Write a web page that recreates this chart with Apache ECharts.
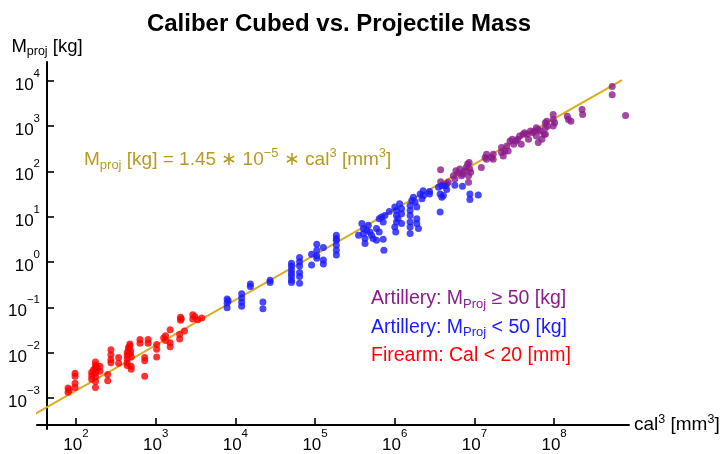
<!DOCTYPE html>
<html>
<head>
<meta charset="utf-8">
<script src="https://cdn.jsdelivr.net/npm/echarts@6/dist/echarts.min.js"></script>
<style>
  html, body { margin: 0; padding: 0; background: #ffffff; }
  #chart { width: 723px; height: 454px; }
</style>
</head>
<body>
<div id="chart"></div>
<script>
// Calibre [mm] and projectile mass [kg], one pair per weapon.
const firearmCal = [4.3,4.3,4.35, 4.6,4.6,4.6,4.6, 5.4,5.4,5.4, 5.6,5.6,5.6,5.6,5.6,5.6,5.6,5.6, 5.5,5.7, 5.85,5.85, 6.3,6.3, 6.5,6.5,6.5,6.5, 7.0,7.0, 7.6,7.6,7.6,7.6,7.6, 7.7,7.7, 7.8,7.8, 7.85,7.85, 7.9,7.9,7.9, 8.6,8.6, 9.0,9.0,9.0, 9.3,9.3, 10.1,10.1,10.1, 10.8, 11.0,11.0, 11.5,11.5,11.5, 12.6,12.6, 12.7,12.7, 12.8, 13.2, 14.3,14.3, 14.6, 15.0, 15.6];
const firearmMass = [0.00166,0.00133,0.0015, 0.0035,0.0030,0.0021,0.0017, 0.0037,0.0031,0.0026, 0.0062,0.0053,0.0047,0.0040,0.0035,0.0029,0.0023,0.0017, 0.0042,0.0045, 0.0050,0.0039, 0.0033,0.0024, 0.0115,0.0090,0.0070,0.0060, 0.0078,0.0058, 0.0100,0.0085,0.0072,0.0060,0.0052, 0.0130,0.0115, 0.0155,0.0140, 0.0110,0.0095, 0.0080,0.0050,0.0043, 0.0195,0.0160, 0.0078,0.0066,0.0030, 0.0195,0.0160, 0.0150,0.0118,0.0080, 0.021, 0.0235,0.0185, 0.032,0.0166,0.0135, 0.025,0.020, 0.060,0.052, 0.056, 0.030, 0.068,0.055, 0.062, 0.053, 0.058];

const lightCal = [19.9,19.9,19.9,20.1, 22.9,22.9,22.9,22.9, 24.9,24.9, 28.1,28.1, 30.1,30.1, 37,37,37,37,37,37,37, 40,40,40,40,40,40, 44.9,44.9, 47.2,47.2,47.2,47.2, 50.3,50.3,50.3, 57,57,57,57,57,57,
  70.6,72.9,74,74,75.1,75.1,76.3,77.5,78.7,80,81.2,83.9,83.9,86.1,89.5,90.1, 86.1,88.1,89.5,91,94.9, 100.1,101.7,101.7,103.2,101.7,100.1,101, 104.8,106.8,106.8,106.8, 116,116,116,116,116,116, 117.9,119.7,121.7, 123.7,123.7,123.7, 125.7, 127.8,130,132,131.5, 139.8,139.8, 152.4,154.9,157.4,154.9,162.5,165,157.4,159.8, 178.5,192,206.3,206.3,223.6];
const lightMass = [0.152,0.124,0.097,0.14, 0.199,0.16,0.129,0.105, 0.328,0.288, 0.131,0.093, 0.395,0.352, 0.93,0.80,0.665,0.564,0.484,0.402,0.352, 1.26,1.01,0.81,0.583,0.477,0.34, 1.47,0.855, 2.46,1.82,1.37,1.2, 2.08,1.1,0.9, 3.88,3.3,3.01,2.34,1.82,1.42,
  3.88,7.0,5.43,4.23,3.28,2.55,4.99,6.42,4.6,3.88,3.28,5.43,3.01,4.6,3.17,1.82, 9.0,9.8,7.6,10.6,13.0, 16.2,13.7,10.6,9.0,7.6,5.92,4.6, 19.1,14.9,11.6,7.0, 17.6,13.7,10.6,7.6,5.92,4.23, 22.6,26.8,20.9, 16.2,9.0,7.0, 5.43, 31.7,24.6,29.1,37.4, 35.6,31.7, 44.5,31.7,26.8,12.6,48.2,39.4,48.2,29.1, 49,46.7,31.7,23.8,30.1];

const heavyCal = [155.6,155.6,165,167.5,176,178.5,180.3,184.3,187.1,190.2, 193,195.9,199.1,201.8,204.8,203.6,203.6,206,207.9,230.3, 238.8,242.2,242.2,254.3,258.2,258.2,279.7,279.7,284.5,288.9, 294.2,298.3,303.7,310.1,314.6,321.1,326.6,333.2,338.2,344.2, 349.5,357,362.7,369.8,376.8,384.9,391.3,391.3,398.6,398.6, 406.5,412.8,421,426.8,426.8,426.8,432.5,435.8,460.1,460.1, 460.1,466.8,527,533,545.8,607.6,611,812.3,812.3,924];
const heavyMass = [108,58.9,52.5,57.1,79.8,67.5,102.6,91.4,111.8,79.8, 86.9,102.6,121.7,143.9,156.7,79.8,57.1,111.8,94.6,121.7, 201.4,237.7,184.9,201.4,237.7,184.9,333.4,259.4,218.3,281.2, 361.4,281.2,464.9,507,393.6,464.9,507,598,393.6,651.6, 710,651.6,507,769,710,769,598,913,428.6,837, 769,507,651.6,1175,913,651.6,1273,990,1786,1387, 990,1175,1637,1387,1273,2296,1786,7430,4887,1699];

// Fit: M_proj [kg] = 1.45e-5 * cal^3 [mm^3], drawn over this cal^3 span
const fitCoef = 1.45e-5;
const fitCal3Span = [29, 7.1e8];

// Decade exponents that get a tick and a label
const xTickExps = [2, 3, 4, 5, 6, 7, 8];
const yTickExps = [-3, -2, -1, 0, 1, 2, 3, 4];

const seriesNames = {
  heavy: 'Artillery: M_Proj >= 50 [kg]',
  light: 'Artillery: M_Proj < 50 [kg]',
  firearm: 'Firearm: Cal < 20 [mm]'
};

const FONT = 'Liberation Sans, Arial, Helvetica, sans-serif';
const C_HEAVY = '#8B1C8B';
const C_LIGHT = '#1A1AFF';
const C_FIRE = '#FF0000';
const C_FIT = '#D8AE1C';
const C_EQ = '#B89A22';

// Both axes are decades: points are placed by log10 of their values
function toPoints(cal, mass) {
  const n = Math.min(cal.length, mass.length);
  const out = [];
  for (let i = 0; i < n; i++) {
    out.push([Math.log10(cal[i] * cal[i] * cal[i]), Math.log10(mass[i])]);
  }
  return out;
}
const fitLine = fitCal3Span.map(v => [Math.log10(v), Math.log10(fitCoef * v)]);

function powLabel(e) {
  const s = e < 0 ? '\u2212' + (-e) : String(e);
  return '{b|10}{s|' + s + '}';
}
const tickRich = {
  b: { fontFamily: FONT, fontSize: 17, fontWeight: 'normal', lineHeight: 26, color: '#000', verticalAlign: 'bottom' },
  s: { fontFamily: FONT, fontSize: 11.5, fontWeight: 'normal', lineHeight: 11, color: '#000', verticalAlign: 'top' }
};

const chart = echarts.init(document.getElementById('chart'), null, { renderer: 'canvas' });

chart.setOption({
  animation: false,
  backgroundColor: '#ffffff',
  title: [
    {
      // centred over the plotting area
      text: 'Caliber Cubed vs. Projectile Mass',
      left: 334,
      textAlign: 'center',
      top: 7,
      textStyle: { fontFamily: FONT, fontSize: 24, fontWeight: 'bold', color: '#000' }
    },
    {
      text: '{t|M}{d|proj}{t| [kg] = 1.45 \u2217 10}{u|\u22125}{t| \u2217 cal}{u|3}{t| [mm}{u|3}{t|]}',
      left: 79,
      top: 142,
      textStyle: {
        fontWeight: 'normal',
        rich: {
          t: { fontFamily: FONT, fontSize: 19, fontWeight: 'normal', lineHeight: 25, color: C_EQ, verticalAlign: 'middle' },
          d: { fontFamily: FONT, fontSize: 13, fontWeight: 'normal', lineHeight: 12, color: C_EQ, verticalAlign: 'bottom' },
          u: { fontFamily: FONT, fontSize: 13, fontWeight: 'normal', lineHeight: 12, color: C_EQ, verticalAlign: 'top' }
        }
      }
    }
  ],
  legend: {
    orient: 'vertical',
    left: 361,
    top: 284,
    itemGap: 7,
    itemWidth: 0,
    itemHeight: 0,
    icon: 'none',
    selectedMode: false,
    data: [seriesNames.heavy, seriesNames.light, seriesNames.firearm],
    formatter: function (name) {
      if (name === seriesNames.heavy) return '{p|Artillery: M}{ps|Proj}{p| \u2265 50 [kg]}';
      if (name === seriesNames.light) return '{l|Artillery: M}{ls|Proj}{l| < 50 [kg]}';
      return '{r|Firearm: Cal < 20 [mm]}';
    },
    textStyle: {
      rich: {
        p: { fontFamily: FONT, fontSize: 19.5, lineHeight: 23, color: C_HEAVY },
        ps: { fontFamily: FONT, fontSize: 13, lineHeight: 12, color: C_HEAVY, verticalAlign: 'bottom' },
        l: { fontFamily: FONT, fontSize: 19.5, lineHeight: 23, color: C_LIGHT },
        ls: { fontFamily: FONT, fontSize: 13, lineHeight: 12, color: C_LIGHT, verticalAlign: 'bottom' },
        r: { fontFamily: FONT, fontSize: 19.5, lineHeight: 23, color: C_FIRE }
      }
    }
  },
  grid: { left: 37, right: 94, top: 62, bottom: 22, containLabel: false },
  xAxis: {
    type: 'value',
    min: 1.511,
    max: 8.94,
    offset: -4,
    splitLine: { show: false },
    axisLine: { show: true, onZero: false, lineStyle: { color: '#000', width: 2 } },
    axisTick: { show: true, inside: true, length: 7, customValues: xTickExps, lineStyle: { color: '#000', width: 1.6 } },
    axisLabel: { customValues: xTickExps, margin: 3, formatter: powLabel, rich: tickRich },
    name: '{n|cal}{e|3}{n| [mm}{e|3}{n|]}',
    nameLocation: 'end',
    nameGap: 5,
    nameTextStyle: {
      rich: {
        n: { fontFamily: FONT, fontSize: 19, lineHeight: 24, color: '#000', verticalAlign: 'middle' },
        e: { fontFamily: FONT, fontSize: 12.5, lineHeight: 11, color: '#000', verticalAlign: 'top' }
      }
    }
  },
  yAxis: {
    type: 'value',
    min: -3.685,
    max: 4.41,
    offset: -10,
    splitLine: { show: false },
    axisLine: { show: true, onZero: false, lineStyle: { color: '#000', width: 2 } },
    axisTick: { show: true, inside: true, length: 7, customValues: yTickExps, lineStyle: { color: '#000', width: 1.6 } },
    axisLabel: { customValues: yTickExps, margin: 7, formatter: powLabel, rich: tickRich },
    name: '{m|M}{s|proj}{m| [kg]}',
    nameLocation: 'end',
    nameGap: 4,
    nameTextStyle: {
      align: 'center',
      rich: {
        m: { fontFamily: FONT, fontSize: 18.5, lineHeight: 22, color: '#000', verticalAlign: 'middle' },
        s: { fontFamily: FONT, fontSize: 12.5, lineHeight: 12, color: '#000', verticalAlign: 'bottom' }
      }
    }
  },
  series: [
    {
      name: 'fit',
      type: 'line',
      data: fitLine,
      showSymbol: false,
      clip: false,
      silent: true,
      z: 1,
      lineStyle: { color: C_FIT, width: 2 }
    },
    {
      name: seriesNames.heavy,
      type: 'scatter',
      data: toPoints(heavyCal, heavyMass),
      symbolSize: 7,
      z: 2,
      itemStyle: { color: C_HEAVY }
    },
    {
      name: seriesNames.light,
      type: 'scatter',
      data: toPoints(lightCal, lightMass),
      symbolSize: 7,
      z: 3,
      itemStyle: { color: C_LIGHT }
    },
    {
      name: seriesNames.firearm,
      type: 'scatter',
      data: toPoints(firearmCal, firearmMass),
      symbolSize: 7,
      z: 4,
      itemStyle: { color: C_FIRE }
    }
  ]
});
</script>
</body>
</html>
